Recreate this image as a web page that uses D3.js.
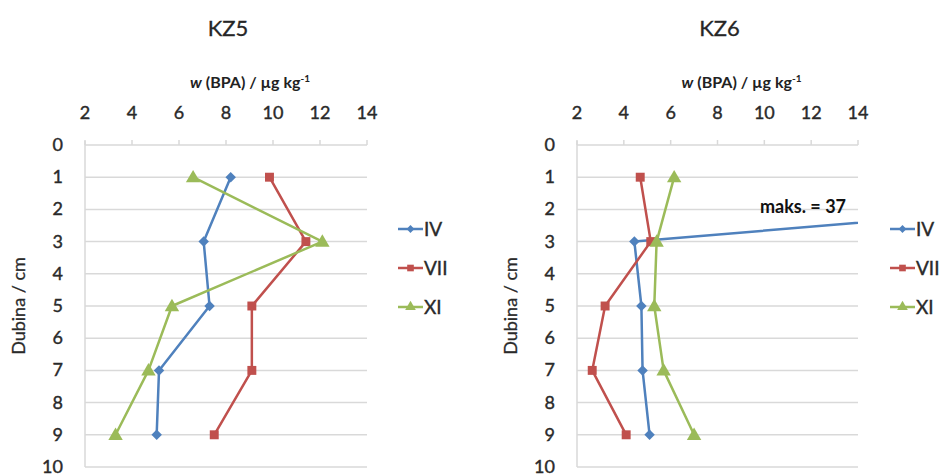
<!DOCTYPE html>
<html>
<head>
<meta charset="utf-8">
<script src="https://cdn.jsdelivr.net/npm/d3@7"></script>
<style>
  body { margin: 0; background: #fff; }
  text { font-family: Lato, "Open Sans", sans-serif; }
</style>
</head>
<body>
<script>
let depths = [1, 3, 5, 7, 9]
let series_names = ['IV', 'VII', 'XI']
let kz5_iv = [8.2, 7.05, 7.3, 5.15, 5.05]
let kz5_vii = [9.85, 11.4, 9.1, 9.1, 7.5]
let kz5_xi = [6.6, 12.1, 5.7, 4.7, 3.3]
let kz6_iv = [37, 4.45, 4.75, 4.8, 5.1]
let kz6_vii = [4.7, 5.15, 3.2, 2.65, 4.1]
let kz6_xi = [6.15, 5.4, 5.3, 5.7, 7.0]
let x_ticks = [2, 4, 6, 8, 10, 12, 14]
let y_ticks = [0, 1, 2, 3, 4, 5, 6, 7, 8, 9, 10]
let colors = ['#4F81BD', '#C0504D', '#9BBB59']
let symbols = [d3.symbolDiamond2, d3.symbolSquare, d3.symbolTriangle]
let sym_sizes = [70, 80, 90]
let grid_color = '#d9d9d9'
let text_color = '#2a2a2a'

let width = 948
let height = 475

let panels = [
  {title: 'KZ5', x0: 85, x1: 367, legend_x: 398, series: [kz5_iv, kz5_vii, kz5_xi], note: null},
  {title: 'KZ6', x0: 577, x1: 858, legend_x: 890, series: [kz6_iv, kz6_vii, kz6_xi], note: 'maks. = 37'}
]

let svg = d3.select('body').append('svg')
  .attr('width', width)
  .attr('height', height)

// slight stroke so the text reads as heavy as the blurred reference
function heavy(sel, w) {
  return sel.attr('stroke', sel.attr('fill')).attr('stroke-width', w).attr('paint-order', 'stroke')
}

function drawPanel(p, idx) {
  let x = d3.scaleLinear().domain([2, 14]).range([p.x0, p.x1])
  let y = d3.scaleLinear().domain([0, 10]).range([145, 467])
  let g = svg.append('g')

  // title
  heavy(g.append('text')
    .attr('x', (p.x0 + p.x1) / 2 + 2)
    .attr('y', 36)
    .attr('text-anchor', 'middle')
    .attr('font-size', 22)
    .attr('fill', '#262626')
    .text(p.title), 0.3)

  // x axis title
  let xt = g.append('text')
    .attr('x', (p.x0 + p.x1) / 2 + 24)
    .attr('y', 88)
    .attr('text-anchor', 'middle')
    .attr('font-size', 16)
    .attr('font-weight', 'bold')
    .attr('fill', '#222')
  xt.append('tspan').attr('font-style', 'italic').text('w')
  xt.append('tspan').text(' (BPA) / µg kg')
  xt.append('tspan').attr('font-size', 10).attr('dy', -6).text('-1')

  // gridlines
  g.selectAll('.grid')
    .data(y_ticks)
    .enter().append('line')
    .attr('x1', p.x0)
    .attr('x2', p.x1)
    .attr('y1', d => y(d))
    .attr('y2', d => y(d))
    .attr('stroke', grid_color)
    .attr('stroke-width', 1.5)

  // vertical axis line
  g.append('line')
    .attr('x1', p.x0).attr('x2', p.x0)
    .attr('y1', y(0) - 4).attr('y2', y(10))
    .attr('stroke', grid_color)
    .attr('stroke-width', 1.5)

  // top ticks
  g.selectAll('.xtick')
    .data(x_ticks)
    .enter().append('line')
    .attr('x1', d => x(d)).attr('x2', d => x(d))
    .attr('y1', y(0) - 5).attr('y2', y(0))
    .attr('stroke', grid_color)
    .attr('stroke-width', 1.5)

  heavy(g.selectAll('.xlab')
    .data(x_ticks)
    .enter().append('text')
    .attr('x', d => x(d))
    .attr('y', 119)
    .attr('text-anchor', 'middle')
    .attr('font-size', 18)
    .attr('fill', text_color)
    .text(d => d), 0.4)

  heavy(g.selectAll('.ylab')
    .data(y_ticks)
    .enter().append('text')
    .attr('x', p.x0 - 22)
    .attr('y', d => y(d) + 6)
    .attr('text-anchor', 'end')
    .attr('font-size', 18)
    .attr('fill', text_color)
    .text(d => d), 0.4)

  heavy(g.append('text')
    .attr('transform', `translate(${p.x0 - 60},${y(5)}) rotate(-90)`)
    .attr('text-anchor', 'middle')
    .attr('font-size', 18)
    .attr('fill', text_color)
    .text('Dubina / cm'), 0.3)

  // clip
  let clipId = 'clip' + idx
  svg.append('clipPath').attr('id', clipId)
    .append('rect')
    .attr('x', p.x0).attr('y', y(0) - 10)
    .attr('width', p.x1 - p.x0).attr('height', y(10) - y(0) + 20)

  let plot = g.append('g').attr('clip-path', `url(#${clipId})`)
  let line = d3.line()
    .x(d => x(d.v))
    .y(d => y(d.d))

  p.series.forEach((vals, i) => {
    let data = vals.map((v, j) => ({v: v, d: depths[j]}))
    plot.append('path')
      .datum(data)
      .attr('d', line)
      .attr('fill', 'none')
      .attr('stroke', colors[i])
      .attr('stroke-width', 2.5)
      .attr('stroke-linejoin', 'round')
    plot.selectAll('.m' + i)
      .data(data)
      .enter().append('path')
      .attr('transform', d => `translate(${x(d.v)},${y(d.d) + (i === 2 ? 1 : 0)})`)
      .attr('d', d3.symbol().type(symbols[i]).size(sym_sizes[i]))
      .attr('fill', colors[i])
  })

  // legend
  series_names.forEach((name, i) => {
    let ly = 229 + i * 39
    g.append('line')
      .attr('x1', p.legend_x).attr('x2', p.legend_x + 25)
      .attr('y1', ly).attr('y2', ly)
      .attr('stroke', colors[i])
      .attr('stroke-width', 2.5)
    g.append('path')
      .attr('transform', `translate(${p.legend_x + 12.5},${ly})`)
      .attr('d', d3.symbol().type(symbols[i]).size(sym_sizes[i] * 0.55))
      .attr('fill', colors[i])
    heavy(g.append('text')
      .attr('x', p.legend_x + 26)
      .attr('y', ly + 7)
      .attr('font-size', 19)
      .attr('fill', text_color)
      .text(name), 0.4)
  })

  if (p.note) {
    g.append('text')
      .attr('x', 803)
      .attr('y', 213)
      .attr('text-anchor', 'middle')
      .attr('font-size', 18)
      .attr('font-weight', 'bold')
      .attr('fill', '#111')
      .text(p.note)
  }
}

panels.forEach(drawPanel)
</script>
</body>
</html>
